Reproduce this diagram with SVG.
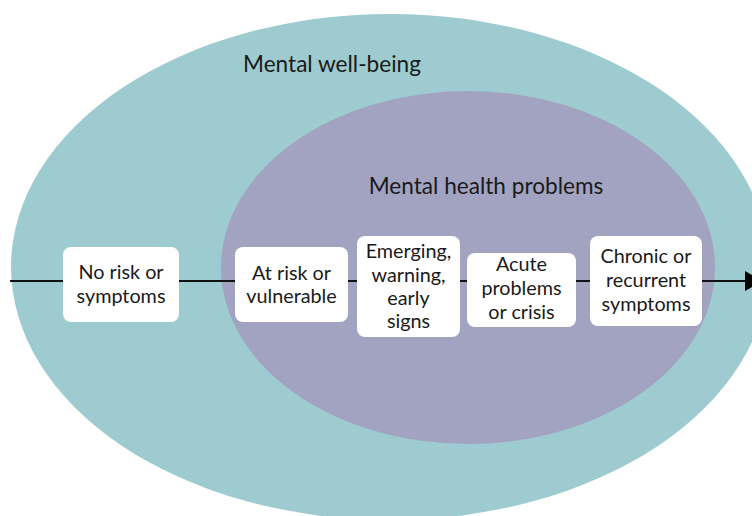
<svg xmlns="http://www.w3.org/2000/svg" width="752" height="516" viewBox="0 0 752 516">
  <style>
    .lbl { font-family: Lato, "Open Sans", "Liberation Sans", sans-serif; font-size: 19.8px; fill: #1a1a1a; text-anchor: middle; }
    .ttl { font-family: Lato, "Open Sans", "Liberation Sans", sans-serif; font-size: 22.6px; fill: #1a1a1a; text-anchor: middle; }
    .box { fill: #ffffff; }
    .conn { stroke: #111111; stroke-width: 2; fill: none; }
  </style>
  <rect x="0" y="0" width="752" height="516" fill="#ffffff"/>
  <g id="mental-well-being">
    <ellipse cx="390" cy="267" rx="379" ry="253" fill="#9dcbd0"/>
    <text class="ttl" x="332" y="72">Mental well-being</text>
  </g>
  <g id="mental-health-problems">
    <ellipse cx="468" cy="267.5" rx="247" ry="176.5" fill="#a2a3c1"/>
    <text class="ttl" x="486" y="194">Mental health problems</text>
  </g>
  <g id="connectors">
    <line class="conn" x1="10" y1="281" x2="748" y2="281"/>
    <polygon points="745,271 763,281 745,291" fill="#000000"/>
  </g>
  <g id="no-risk">
    <rect class="box" x="63" y="247" width="116" height="75" rx="8"/>
    <text class="lbl" x="121" y="279">No risk or</text>
    <text class="lbl" x="121" y="303">symptoms</text>
  </g>
  <g id="at-risk">
    <rect class="box" x="235" y="247" width="113" height="75" rx="8"/>
    <text class="lbl" x="291.5" y="280">At risk or</text>
    <text class="lbl" x="291.5" y="303">vulnerable</text>
  </g>
  <g id="emerging">
    <rect class="box" x="357" y="236" width="103" height="101" rx="8"/>
    <text class="lbl" x="408.5" y="258">Emerging,</text>
    <text class="lbl" x="408.5" y="282">warning,</text>
    <text class="lbl" x="408.5" y="305">early</text>
    <text class="lbl" x="408.5" y="328">signs</text>
  </g>
  <g id="acute">
    <rect class="box" x="467" y="253" width="109" height="74" rx="8"/>
    <text class="lbl" x="521.5" y="271">Acute</text>
    <text class="lbl" x="521.5" y="295">problems</text>
    <text class="lbl" x="521.5" y="319">or crisis</text>
  </g>
  <g id="chronic">
    <rect class="box" x="590" y="236" width="112" height="90" rx="8"/>
    <text class="lbl" x="646" y="263">Chronic or</text>
    <text class="lbl" x="646" y="287">recurrent</text>
    <text class="lbl" x="646" y="311">symptoms</text>
  </g>
</svg>
